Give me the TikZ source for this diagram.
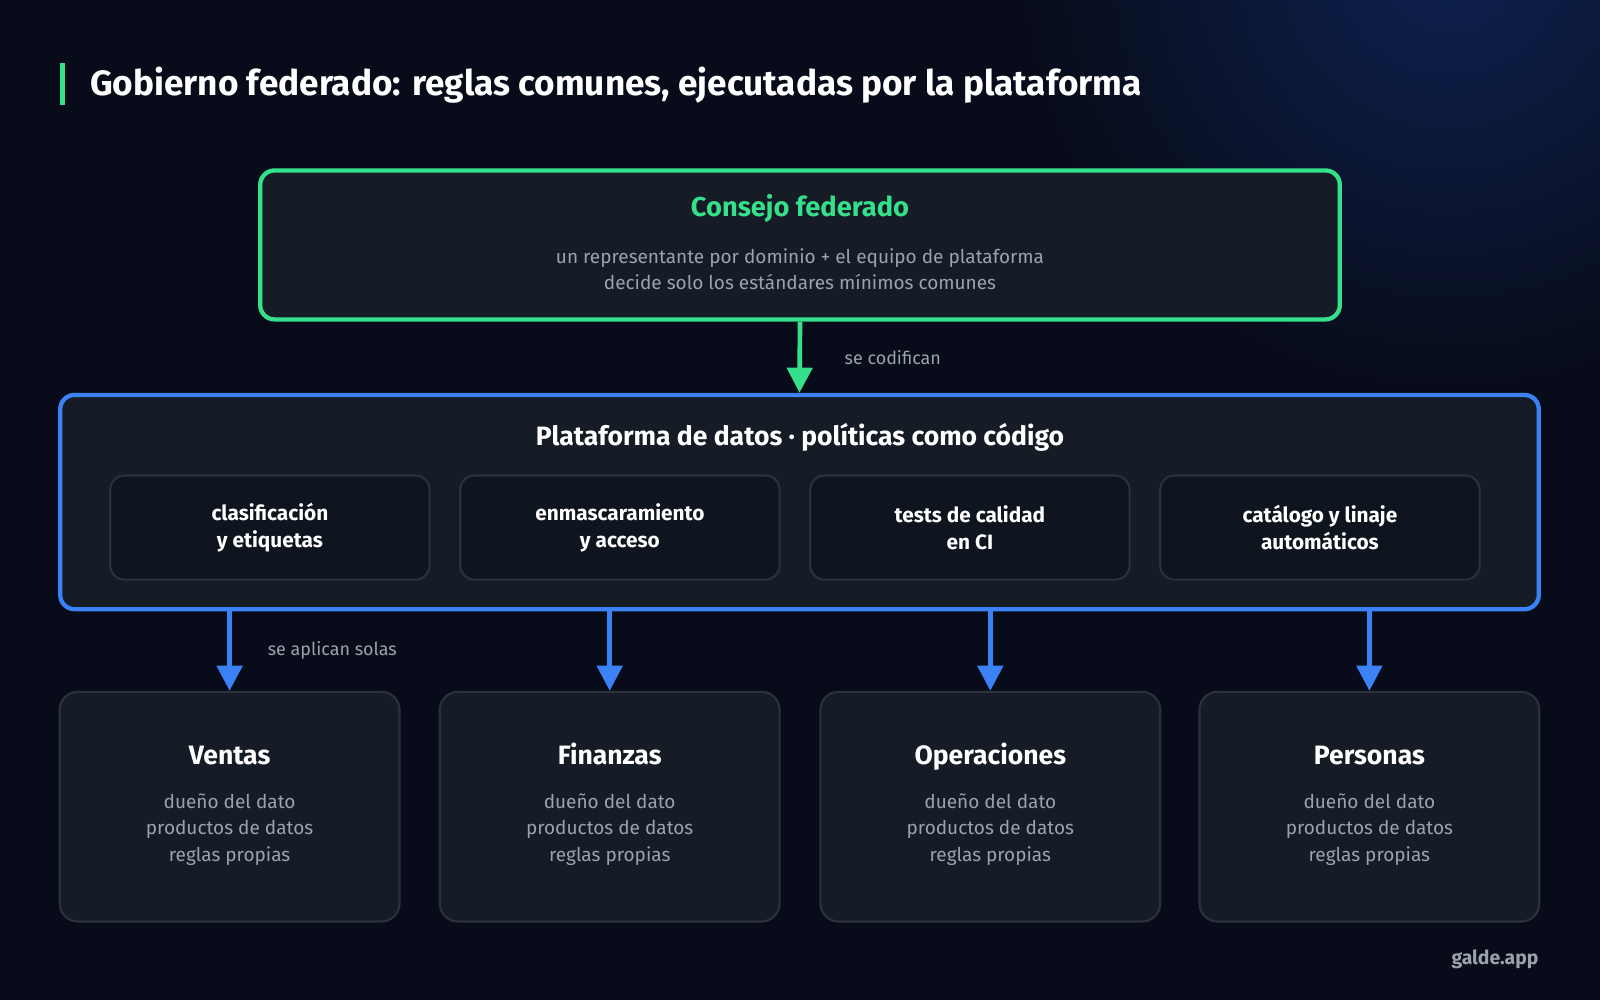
\documentclass[tikz,border=0pt]{standalone}
\usepackage{fontspec}
\setmainfont{Fira Sans}
\usetikzlibrary{arrows.meta,positioning}
\definecolor{bgdark}{HTML}{080C1A}
\definecolor{glow}{HTML}{0E2150}
\definecolor{boxfill}{HTML}{161C26}
\definecolor{innerfill}{HTML}{0F151F}
\definecolor{innerline}{HTML}{2A313C}
\definecolor{accgreen}{HTML}{34E08A}
\definecolor{accblue}{HTML}{3B82F6}
\definecolor{subgrey}{HTML}{9AA3AD}
\tikzset{
    card/.style={draw=#1, line width=1.2pt, fill=boxfill, rounded corners=4pt, inner sep=0pt},
    inner/.style={draw=innerline, line width=0.6pt, fill=innerfill, rounded corners=4pt,
        minimum width=3.13cm, minimum height=1.02cm, align=center, text=white,
        font=\fontsize{5.8}{7.6}\selectfont\bfseries},
    dom/.style={draw=innerline, line width=0.6pt, fill=boxfill, rounded corners=5pt,
        minimum width=3.33cm, minimum height=2.25cm},
    ttl/.style={font=\fontsize{7.4}{9}\selectfont\bfseries, text=white, text height=1.9mm, text depth=0.5mm},
    sub/.style={font=\fontsize{5.3}{7.4}\selectfont, text=subgrey, align=center},
    lbl/.style={font=\fontsize{5}{6}\selectfont, text=subgrey, anchor=west},
    flow/.style={line width=1.3pt, -{Triangle[width=7pt,length=7pt]}}
}
\begin{document}
\begin{tikzpicture}
    % background
    \fill[bgdark] (0,0) rectangle (15.68,-9.8);
    \begin{scope}
    \clip (0,0) rectangle (15.68,-9.8);
    \shade[inner color=glow, outer color=bgdark] (14.2,0.4) circle (4.2);
    \end{scope}
    \useasboundingbox (0,0) rectangle (15.68,-9.8);
    % title
    \fill[accgreen] (0.59,-0.62) rectangle (0.64,-1.03);
    \node[anchor=west, text=white, font=\fontsize{9.8}{12}\selectfont\bfseries] (title) at (0.76,-0.83)
        {Gobierno federado: reglas comunes, ejecutadas por la plataforma};
    % council
    \node[card=accgreen, minimum width=10.58cm, minimum height=1.46cm] (council) at (7.84,-2.40) {};
    \node[font=\fontsize{7.6}{9}\selectfont\bfseries, text=accgreen] (counciltitle) at (7.84,-2.04) {Consejo federado};
    \node[sub] (councilsub) at (7.84,-2.64) {un representante por dominio + el equipo de plataforma\\decide solo los estándares mínimos comunes};
    % platform
    \node[card=accblue, minimum width=14.49cm, minimum height=2.10cm] (platform) at (7.835,-4.92) {};
    \node[ttl] (platformtitle) at (7.84,-4.30) {Plataforma de datos · políticas como código};
    \node[inner] (p1) at (2.645,-5.17) {clasificación\\y etiquetas};
    \node[inner] (p2) at (6.075,-5.17) {enmascaramiento\\y acceso};
    \node[inner] (p3) at (9.505,-5.17) {tests de calidad\\en CI};
    \node[inner] (p4) at (12.935,-5.17) {catálogo y linaje\\automáticos};
    \draw[flow, accgreen] (council.south) -- (platform.north) node[lbl, midway, xshift=0.3cm] {se codifican};
    % domains
    \foreach \name/\x/\label in {ventas/2.25/Ventas, finanzas/5.975/Finanzas, operaciones/9.705/Operaciones, personas/13.42/Personas}{
        \node[dom] (\name) at (\x,-7.905) {};
        \node[ttl] (\name title) at (\x,-7.42) {\label};
        \node[sub] (\name sub) at (\x,-8.13) {dueño del dato\\productos de datos\\reglas propias};
        \coordinate (\name top) at (\x,-5.97);
        \draw[flow, accblue] (\name top) -- (\name.north);
    }
    \node[lbl] (solas) at (2.50,-6.37) {se aplican solas};
    % footer
    \node[anchor=east, text=subgrey, font=\fontsize{5.4}{7}\selectfont\bfseries] (brand) at (15.20,-9.40) {galde.app};
\end{tikzpicture}
\end{document}
